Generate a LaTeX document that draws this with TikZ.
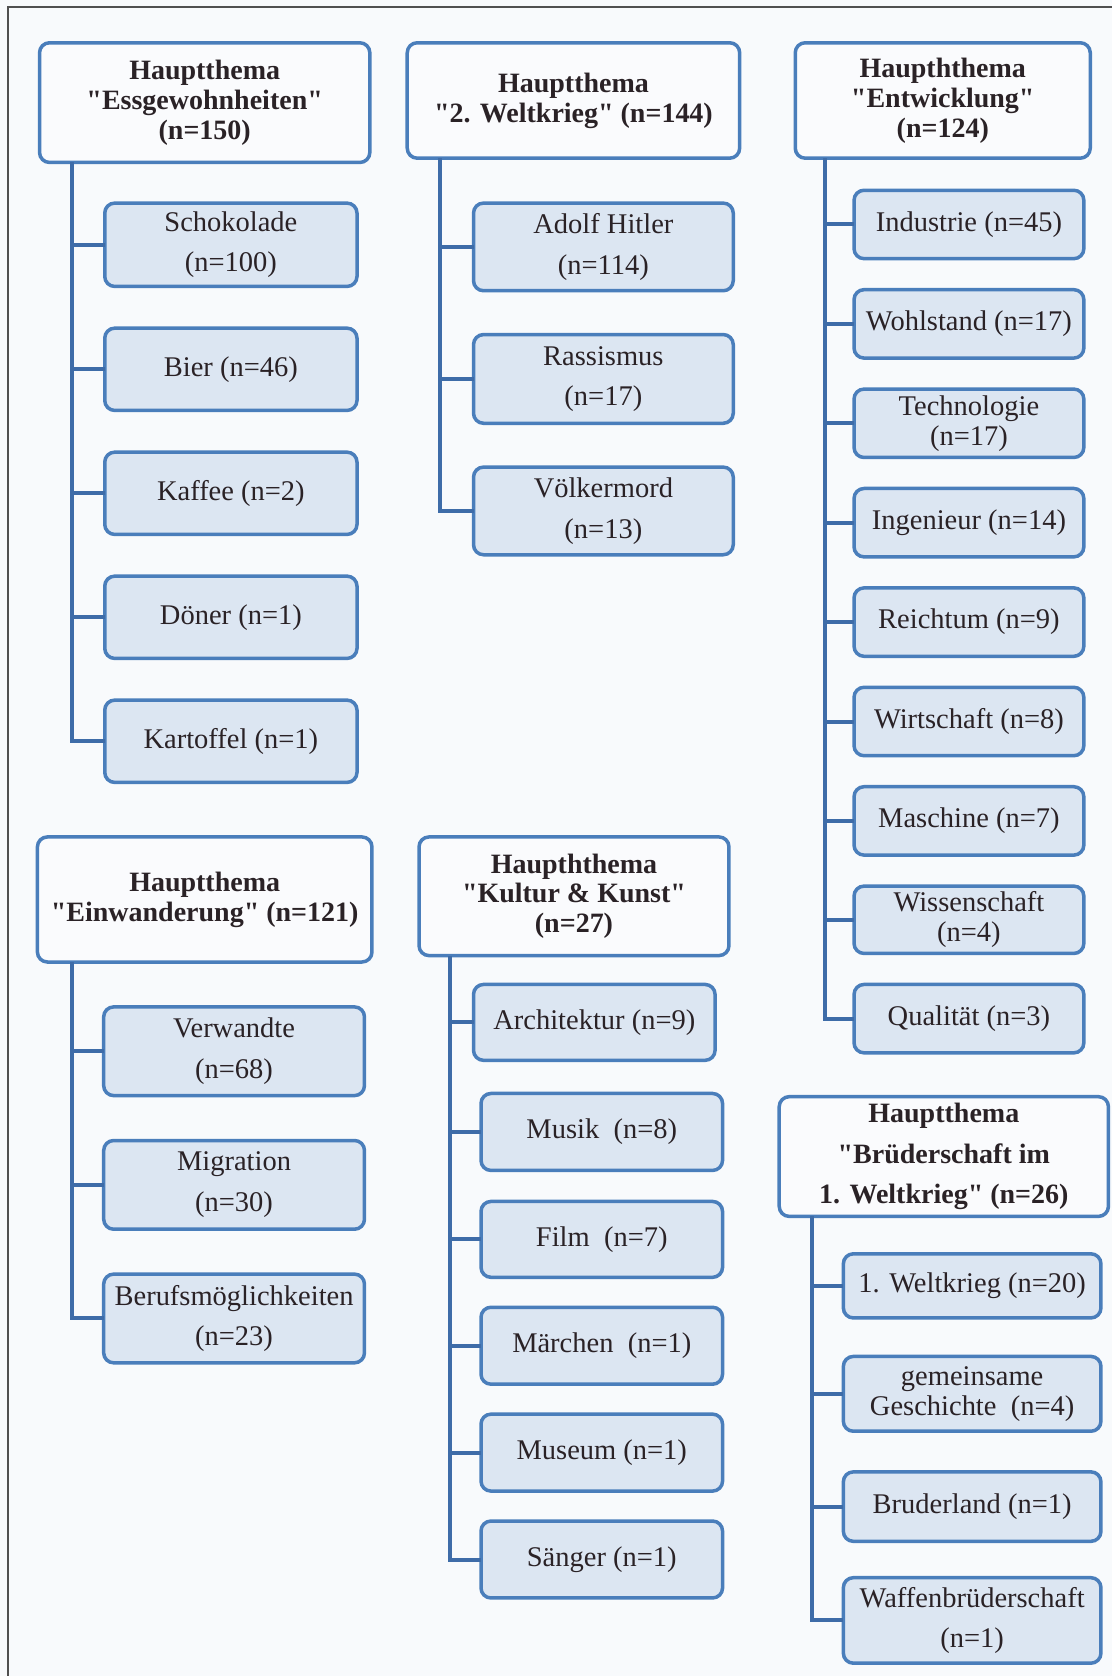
\documentclass[tikz,border=0pt]{standalone}
\usepackage{fontspec}
\setmainfont{Liberation Serif}[Ligatures=TeXOff]

\definecolor{pagebg}{HTML}{F8FAFC}
\definecolor{boxblue}{HTML}{4A7EBB}
\definecolor{linkblue}{HTML}{3E6CA8}
\definecolor{hdrfill}{HTML}{FAFBFD}
\definecolor{subfill}{HTML}{DCE6F2}
\definecolor{ink}{HTML}{2A2226}
\definecolor{framegray}{HTML}{505050}

\tikzset{
  % box spanning the corners (x1,y1) and (x2,y2) in picture units
  span/.style args={#1,#2,#3,#4}{
    at={({(#1+#3)/2},{(#2+#4)/2})},
    minimum width={(#3-#1)*1.0692pt},
    minimum height={(#4-#2)*1.0692pt}},
  boxbase/.style={draw=boxblue, line width=3.5pt, rounded corners=10pt,
    inner sep=0pt, outer sep=0pt, align=center, text=ink},
  hdr/.style={boxbase, fill=hdrfill, font=\bfseries\fontsize{28}{30}\selectfont},
  hdrwide/.style={hdr, font=\bfseries\fontsize{28}{40.6}\selectfont},
  sub/.style={boxbase, fill=subfill, font=\fontsize{28.5}{40.6}\selectfont},
  subtight/.style={sub, font=\fontsize{28.5}{30}\selectfont},
  conn/.style={draw=linkblue, line width=4pt},
}

\begin{document}
\begin{tikzpicture}[x=1.0692pt, y=-1.0692pt]
\fill[pagebg] (0,0) rectangle (1040,1568);
\useasboundingbox (0,0) rectangle (1040,1568);
% page frame (top and left edges)
\draw[framegray, line width=1.2pt] (7.5,1568) -- (7.5,6.5) -- (1040,6.5);

% ---------- Essgewohnheiten ----------
\node[hdr, span={37,40,346,152}] (h1) {Hauptthema\\"Essgewohnheiten"\\(n=150)};
\node[sub, span={98,190,334,268}] (a1) {Schokolade\\(n=100)};
\node[sub, span={98,307,334,384}] (a2) {Bier (n=46)};
\node[sub, span={98,423,334,500}] (a3) {Kaffee (n=2)};
\node[sub, span={98,539,334,616}] (a4) {Döner (n=1)};
\node[sub, span={98,655,334,732}] (a5) {Kartoffel (n=1)};
\coordinate (ta) at (67,0);
\draw[conn] (ta |- h1.south) |- (a5.west);
\foreach \c in {a1,a2,a3,a4} \draw[conn] (ta |- \c.west) -- (\c.west);

% ---------- 2. Weltkrieg ----------
\node[hdr, span={381,40,692,148}] (h2) {Hauptthema\\"2. Weltkrieg" (n=144)};
\node[sub, span={443,190,686,272}] (b1) {Adolf Hitler\\(n=114)};
\node[sub, span={443,313,686,396}] (b2) {Rassismus\\(n=17)};
\node[sub, span={443,437,686,519}] (b3) {Völkermord\\(n=13)};
\coordinate (tb) at (412,0);
\draw[conn] (tb |- h2.south) |- (b3.west);
\foreach \c in {b1,b2} \draw[conn] (tb |- \c.west) -- (\c.west);

% ---------- Entwicklung ----------
\node[hdr, span={744,40,1020,148}] (h3) {Haupththema\\"Entwicklung"\\(n=124)};
\node[sub, span={799,178,1014,242}] (c1) {Industrie (n=45)};
\node[sub, span={799,271,1014,335}] (c2) {Wohlstand (n=17)};
\node[subtight, span={799,364,1014,428}] (c3) {Technologie\\(n=17)};
\node[sub, span={799,457,1014,521}] (c4) {Ingenieur (n=14)};
\node[sub, span={799,550,1014,614}] (c5) {Reichtum (n=9)};
\node[sub, span={799,643,1014,707}] (c6) {Wirtschaft (n=8)};
\node[sub, span={799,736,1014,800}] (c7) {Maschine (n=7)};
\node[subtight, span={799,829,1014,892}] (c8) {Wissenschaft\\(n=4)};
\node[sub, span={799,921,1014,985}] (c9) {Qualität (n=3)};
\coordinate (tc) at (772,0);
\draw[conn] (tc |- h3.south) |- (c9.west);
\foreach \c in {c1,c2,c3,c4,c5,c6,c7,c8} \draw[conn] (tc |- \c.west) -- (\c.west);

% ---------- Einwanderung ----------
\node[hdr, span={35,783,348,900}] (h4) {Hauptthema\\"Einwanderung" (n=121)};
\node[sub, span={97,942,341,1025}] (d1) {Verwandte\\(n=68)};
\node[sub, span={97,1067,341,1150}] (d2) {Migration\\(n=30)};
\node[sub, span={97,1192,341,1275}] (d3) {Berufsmöglichkeiten\\(n=23)};
\coordinate (td) at (67,0);
\draw[conn] (td |- h4.south) |- (d3.west);
\foreach \c in {d1,d2} \draw[conn] (td |- \c.west) -- (\c.west);

% ---------- Kultur & Kunst ----------
\node[hdr, span={392,783,682,894}] (h5) {Haupththema\\"Kultur \& Kunst"\\(n=27)};
\node[sub, span={443,921,669,992}] (e1) {Architektur (n=9)};
\node[sub, span={450,1023,676,1095}] (e2) {Musik\ \ (n=8)};
\node[sub, span={450,1124,676,1195}] (e3) {Film\ \ (n=7)};
\node[sub, span={450,1223,676,1295}] (e4) {Märchen\ \ (n=1)};
\node[sub, span={450,1323,676,1395}] (e5) {Museum (n=1)};
\node[sub, span={450,1423,676,1495}] (e6) {Sänger (n=1)};
\coordinate (te) at (421,0);
\draw[conn] (te |- h5.south) |- (e6.west);
\foreach \c in {e1,e2,e3,e4,e5} \draw[conn] (te |- \c.west) -- (\c.west);

% ---------- Brüderschaft im 1. Weltkrieg ----------
\node[hdrwide, span={729,1026,1037,1138}] (h6) {Hauptthema\\"Brüderschaft im\\1. Weltkrieg" (n=26)};
\node[sub, span={789,1173,1030,1233}] (f1) {1. Weltkrieg (n=20)};
\node[subtight, span={789,1269,1030,1339}] (f2) {gemeinsame\\Geschichte\ \ (n=4)};
\node[sub, span={789,1377,1030,1442}] (f3) {Bruderland (n=1)};
\node[sub, span={789,1476,1030,1556}] (f4) {Waffenbrüderschaft\\(n=1)};
\coordinate (tf) at (760,0);
\draw[conn] (tf |- h6.south) |- (f4.west);
\foreach \c in {f1,f2,f3} \draw[conn] (tf |- \c.west) -- (\c.west);
\end{tikzpicture}
\end{document}
